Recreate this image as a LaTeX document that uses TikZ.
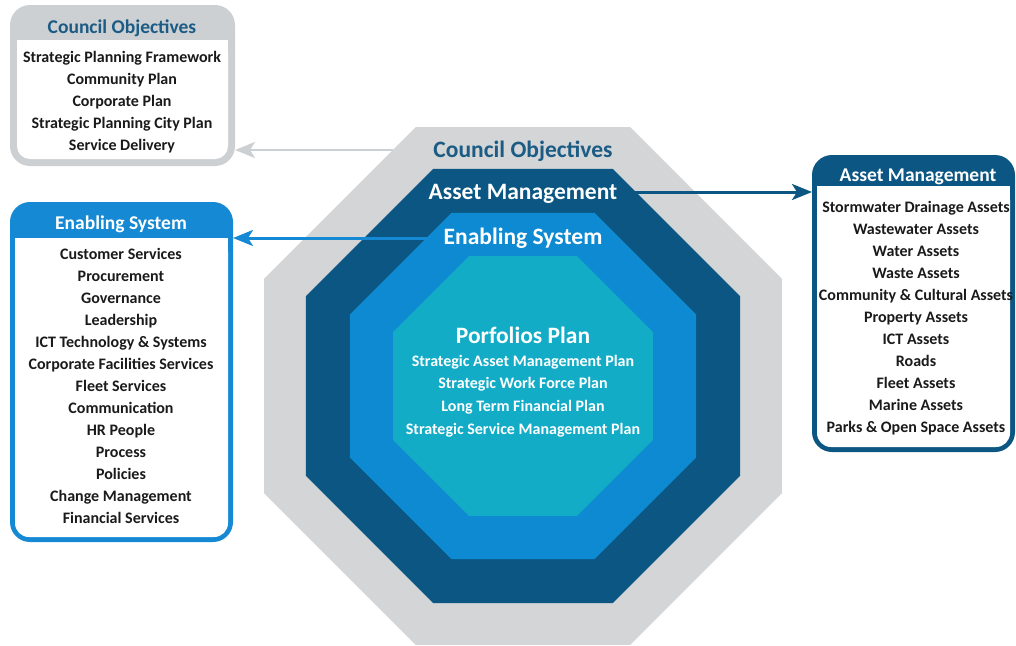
\documentclass[tikz,border=0pt]{standalone}
\usepackage{fontspec}
\setmainfont{Carlito}
\usetikzlibrary{arrows.meta}

\definecolor{octgray}{HTML}{D3D5D7}
\definecolor{octnavy}{HTML}{0B5682}
\definecolor{octblue}{HTML}{0E8AD2}
\definecolor{octteal}{HTML}{12ACC6}
\definecolor{boxgray}{HTML}{CDD0D3}
\definecolor{enabblue}{HTML}{1589D3}
\definecolor{assetnavy}{HTML}{0B5682}
\definecolor{cobjtext}{HTML}{1B5B84}
\definecolor{listtext}{HTML}{1A1A1A}

\begin{document}
\begin{tikzpicture}[x=1pt,y=1pt,
  boxframe/.style={rounded corners=20pt,inner sep=0pt,outer sep=0pt},
  boxhead/.style={font=\fontsize{19.5}{22}\selectfont\bfseries,inner sep=0pt},
  boxlist/.style={font=\fontsize{16}{22}\selectfont\bfseries,align=center,text=listtext,inner sep=0pt},
  octhead/.style={font=\fontsize{23.5}{26}\selectfont\bfseries,inner sep=0pt},
  octlist/.style={font=\fontsize{16}{22.7}\selectfont\bfseries,align=center,text=white,inner sep=0pt},
  link/.style={line width=3pt,-{Stealth[length=20pt,width=16pt,inset=5pt]}}]
\useasboundingbox (0,0) rectangle (1016,-645);

% octagon layers, outside in
\foreach \r/\c in {280.3/octgray,234.9/octnavy,187.3/octblue,140.7/octteal}
  \fill[\c,shift={(523,-386)}] (22.5:\r) \foreach \k in {1,...,7}{ -- ({22.5+45*\k}:\r)} -- cycle;

\node[octhead,text=cobjtext] (octcobj) at (523,-151) {Council Objectives};
\node[octhead,text=white] (octasset) at (523,-194) {Asset Management};
\node[octhead,text=white] (octenab) at (523,-238) {Enabling System};
\node[octhead,text=white] (octport) at (523,-335) {Porfolios Plan};
\node[octlist] (octplans) at (523,-396) {Strategic Asset Management Plan\\
  Strategic Work Force Plan\\Long Term Financial Plan\\Strategic Service Management Plan};

% council objectives box
\node[boxframe,fill=boxgray,minimum width=225pt,minimum height=161pt] (objbox) at (122.5,-85.5) {};
\fill[white,rounded corners=13pt] (17,-40) rectangle (228,-159);
\fill[white] (17,-40) rectangle (228,-60);
\node[boxhead,text=cobjtext] (objhead) at (122,-28) {Council Objectives};
\node[boxlist] (objlist) at (122,-102) {Strategic Planning Framework\\Community Plan\\
  Corporate Plan\\Strategic Planning City Plan\\Service Delivery};

% enabling system box
\node[boxframe,fill=enabblue,minimum width=223pt,minimum height=340pt] (enabbox) at (121.5,-372) {};
\fill[white,rounded corners=14pt] (15,-238) rectangle (228,-537);
\fill[white] (15,-238) rectangle (228,-258);
\node[boxhead,text=white] (enabhead) at (121,-224) {Enabling System};
\node[boxlist] (enablist) at (121,-386) {Customer Services\\Procurement\\Governance\\Leadership\\
  ICT Technology \& Systems\\Corporate Facilities Services\\Fleet Services\\Communication\\
  HR People\\Process\\Policies\\Change Management\\Financial Services};

% asset management box
\node[boxframe,fill=assetnavy,minimum width=203pt,minimum height=297pt] (assetbox) at (913.5,-303.5) {};
\fill[white,rounded corners=14pt] (817,-186) rectangle (1010,-447);
\fill[white] (817,-186) rectangle (1010,-206);
\node[boxhead,text=white] (assethead) at (918,-177) {Asset Management};
\node[boxlist] (assetlist) at (916,-318) {Stormwater Drainage Assets\\Wastewater Assets\\
  Water Assets\\Waste Assets\\Community \& Cultural Assets\\Property Assets\\ICT Assets\\
  Roads\\Fleet Assets\\Marine Assets\\Parks \& Open Space Assets};

% links from the octagon to the boxes
\coordinate (cobjout) at (393,-150);
\coordinate (enabout) at (427,-238);
\coordinate (assetout) at (634,-192);
\draw[link,draw=boxgray,line width=2.5pt] (cobjout) -- (objbox.east |- cobjout);
\draw[link,draw=enabblue] (enabout) -- (enabbox.east |- enabout);
\draw[link,draw=assetnavy] (assetout) -- (assetbox.west |- assetout);
\end{tikzpicture}
\end{document}
